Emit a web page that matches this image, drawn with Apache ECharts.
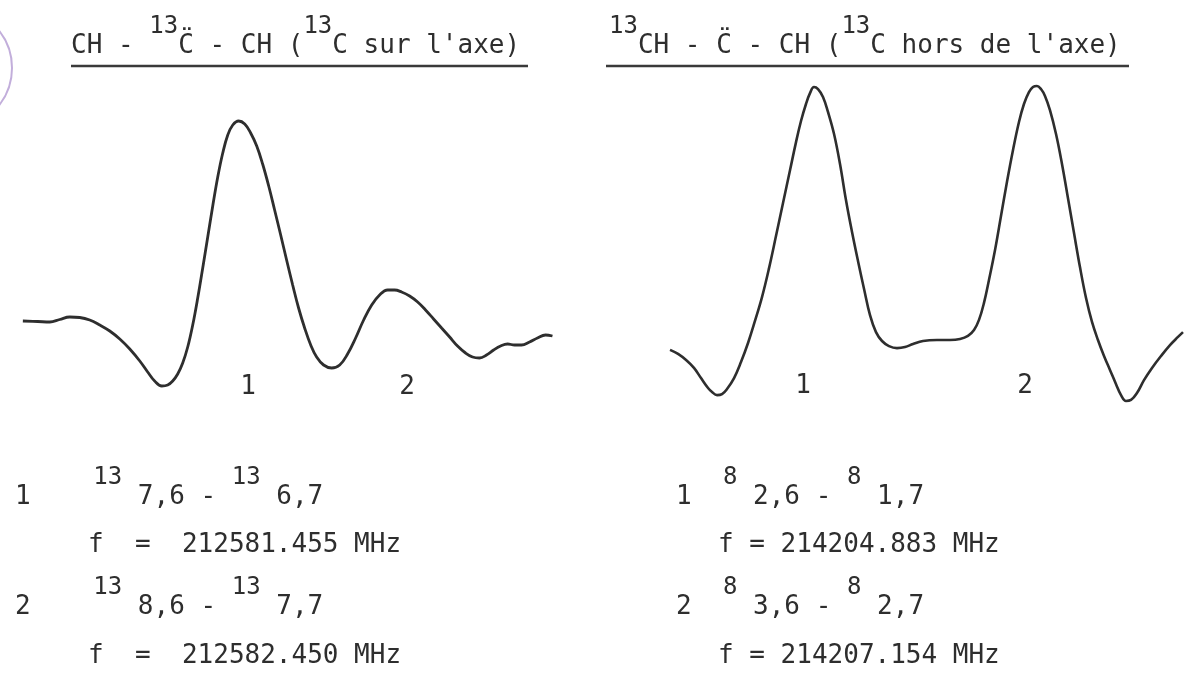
<!DOCTYPE html>
<html>
<head>
<meta charset="utf-8">
<script src="https://cdn.jsdelivr.net/npm/echarts@6/dist/echarts.min.js"></script>
<style>
  html, body { margin: 0; padding: 0; background: #fff; }
  #chart { width: 1195px; height: 673px; }
</style>
</head>
<body>
<div id="chart"></div>
<script>
// left trace: CH - 13C - CH, frequency given as f - 212580 MHz
var leftFreq = [0.032, 0.130, 0.210, 0.275, 0.341, 0.407, 0.473, 0.539, 0.605, 0.671,
  0.737, 0.803, 0.855, 0.901, 0.948, 0.987, 1.020, 1.053, 1.086, 1.119,
  1.152, 1.185, 1.218, 1.251, 1.284, 1.317, 1.350, 1.383, 1.416, 1.455,
  1.495, 1.534, 1.574, 1.613, 1.653, 1.692, 1.732, 1.771, 1.811, 1.850,
  1.890, 1.930, 1.969, 2.015, 2.068, 2.121, 2.173, 2.226, 2.279, 2.332,
  2.384, 2.437, 2.483, 2.529, 2.582, 2.635, 2.687, 2.740, 2.793, 2.846,
  2.898, 2.951, 2.997, 3.043, 3.089, 3.136, 3.182, 3.228, 3.274, 3.320,
  3.373, 3.425, 3.478, 3.524]
var leftIntensity = [0, -0.25, -0.5, 0.75, 2, 1.75, 0.5, -2, -5, -9,
  -14, -20, -25.5, -30, -32.5, -32, -30, -26.5, -21, -13,
  -2, 11.5, 26.5, 42, 57.5, 72, 84, 93, 98, 100,
  98.5, 94, 87.5, 78.5, 67.5, 55.5, 43, 30.5, 18, 6.5,
  -3.5, -12, -18, -22, -23.5, -22, -16.5, -8.5, 0.5, 8,
  13, 15.5, 15.5, 14.5, 12.5, 9.5, 5.5, 1, -3.5, -8,
  -12.5, -16, -18, -18.5, -17, -14.5, -12.5, -11.5, -12, -12,
  -10.5, -8.5, -7, -7.5]

// right trace: 13CH - C - CH, frequency given as f - 214200 MHz
var rightFreq = [3.410, 3.492, 3.574, 3.655, 3.727, 3.799, 3.840, 3.891, 3.942, 3.993,
  4.065, 4.136, 4.208, 4.279, 4.351, 4.423, 4.494, 4.566, 4.638, 4.699,
  4.750, 4.801, 4.842, 4.883, 4.924, 4.975, 5.026, 5.088, 5.149, 5.210,
  5.272, 5.333, 5.395, 5.456, 5.517, 5.579, 5.650, 5.732, 5.814, 5.896,
  5.998, 6.141, 6.274, 6.377, 6.458, 6.520, 6.571, 6.622, 6.673, 6.735,
  6.796, 6.857, 6.919, 6.980, 7.031, 7.082, 7.123, 7.164, 7.205, 7.246,
  7.297, 7.359, 7.420, 7.481, 7.543, 7.604, 7.666, 7.727, 7.788, 7.850,
  7.911, 7.972, 8.024, 8.075, 8.126, 8.187, 8.259, 8.341, 8.433, 8.525,
  8.607, 8.658]
var rightIntensity = [-3.5, -5.1, -7.5, -10.6, -14.6, -18.5, -20.1, -21.3, -20.9, -18.9,
  -14.6, -8.3, -0.8, 7.9, 17.3, 28.7, 41.3, 54.3, 67.3, 78.3,
  86.6, 93.3, 97.6, 100, 99.2, 96.1, 90.2, 81.5, 69.7, 55.5,
  42.9, 31.5, 20.5, 10.2, 3.5, 0, -2.0, -2.8, -2.4, -1.2,
  0, 0.4, 0.4, 0.8, 2.0, 4.3, 8.3, 15.0, 24.0, 35.8,
  49.2, 62.6, 75.2, 86.2, 93.3, 98.0, 100, 100.4, 99.2, 96.5,
  90.9, 81.5, 69.7, 56.3, 42.5, 29.1, 16.9, 7.5, 0.4, -5.9,
  -11.4, -16.9, -21.3, -23.6, -23.2, -20.5, -15.4, -10.6, -5.9, -1.6,
  1.6, 3.5]

var leftLines = [['1', '13', '7,6', '13', '6,7'], ['2', '13', '8,6', '13', '7,7']]
var leftFreqText = ['212581.455', '212582.450']
var rightLines = [['1', '8', '2,6', '8', '1,7'], ['2', '8', '3,6', '8', '2,7']]
var rightFreqText = ['214204.883', '214207.154']

var mono = "'DejaVu Sans Mono', monospace"
var ink = '#2e2e2e'
var none = 'rgba(0,0,0,0)'

function tok(font, color) {
  return { fontFamily: mono, fontSize: font, fontWeight: 'normal', color: color, lineHeight: 30 }
}

// a row is drawn twice: once with the base text, once with the raised numbers,
// each hiding the other part so the monospace advances line up
function row(left, top, parts) {
  var base = '', sup = ''
  parts.forEach(function (p) {
    base += '{' + (p[0] === 'm' ? 'm' : 'sg') + '|' + p[1] + '}'
    sup += '{' + (p[0] === 's' ? 's' : 'mg') + '|' + p[1] + '}'
  })
  var rich = { m: tok(26, ink), mg: tok(26, none), s: tok(24, ink), sg: tok(24, none) }
  var out = [{ left: left, top: top, padding: 0, text: base, textStyle: { fontWeight: 'normal', rich: rich } }]
  if (sup.indexOf('{s|') >= 0) {
    out.push({ left: left, top: top - 19, padding: 0, text: sup, textStyle: { fontWeight: 'normal', rich: rich } })
  }
  return out
}

function zip(xs, ys) {
  return xs.map(function (x, i) { return [x, ys[i]] })
}

var titles = []
  .concat(row(71, 31, [['m', 'CH - '], ['s', '13'], ['m', 'C\u0308 - CH ('], ['s', '13'], ['m', "C sur l'axe)"]]))
  .concat(row(609, 31, [['s', '13'], ['m', 'CH - C\u0308 - CH ('], ['s', '13'], ['m', "C hors de l'axe)"]]))

leftLines.forEach(function (l, i) {
  var top = i === 0 ? 482 : 592
  titles = titles.concat(row(15, top, [['m', l[0] + '    '], ['s', l[1]], ['m', ' ' + l[2] + ' - '], ['s', l[3]], ['m', ' ' + l[4]]]))
  titles = titles.concat(row(88, top + 48 + i, [['m', 'f  =  ' + leftFreqText[i] + ' MHz']]))
})
rightLines.forEach(function (l, i) {
  var top = i === 0 ? 482 : 592
  titles = titles.concat(row(676, top, [['m', l[0] + '  '], ['s', l[1]], ['m', ' ' + l[2] + ' - '], ['s', l[3]], ['m', ' ' + l[4]]]))
  titles = titles.concat(row(718, top + 48 + i, [['m', 'f = ' + rightFreqText[i] + ' MHz']]))
})

function peakText(x, y, t) {
  return {
    type: 'text', x: x, y: y,
    style: { text: t, font: '26px ' + mono, fill: ink, textAlign: 'center', textVerticalAlign: 'middle' }
  }
}

var myChart = echarts.init(document.getElementById('chart'))
var option = {
  backgroundColor: '#fff',
  animation: false,
  title: titles,
  grid: [
    { left: 18, top: 101, width: 546, height: 300 },
    { left: 649.5, top: 61.6, width: 537.6, height: 355.6 }
  ],
  xAxis: [
    { type: 'value', gridIndex: 0, min: 0, max: 3.6, show: false },
    { type: 'value', gridIndex: 1, min: 3.2, max: 8.7, show: false }
  ],
  yAxis: [
    { type: 'value', gridIndex: 0, min: -40, max: 110, show: false },
    { type: 'value', gridIndex: 1, min: -30, max: 110, show: false }
  ],
  series: [
    {
      name: '13C sur l\'axe', type: 'line', xAxisIndex: 0, yAxisIndex: 0,
      data: zip(leftFreq, leftIntensity), showSymbol: false, smooth: 0.4,
      lineStyle: { color: ink, width: 2.8 }
    },
    {
      name: '13C hors de l\'axe', type: 'line', xAxisIndex: 1, yAxisIndex: 1,
      data: zip(rightFreq, rightIntensity), showSymbol: false, smooth: 0.4,
      lineStyle: { color: ink, width: 2.6 }
    }
  ],
  graphic: [
    { type: 'circle', shape: { cx: -48, cy: 68, r: 60 }, style: { fill: 'none', stroke: '#c2aedb', lineWidth: 2 } },
    { type: 'line', shape: { x1: 71, y1: 66, x2: 528, y2: 66 }, style: { stroke: '#3a3a3a', lineWidth: 2.5 } },
    { type: 'line', shape: { x1: 606, y1: 66, x2: 1129, y2: 66 }, style: { stroke: '#3a3a3a', lineWidth: 2.5 } },
    peakText(248, 387, '1'),
    peakText(407, 387, '2'),
    peakText(803, 386, '1'),
    peakText(1025, 386, '2')
  ]
}
option && myChart.setOption(option)
</script>
</body>
</html>
